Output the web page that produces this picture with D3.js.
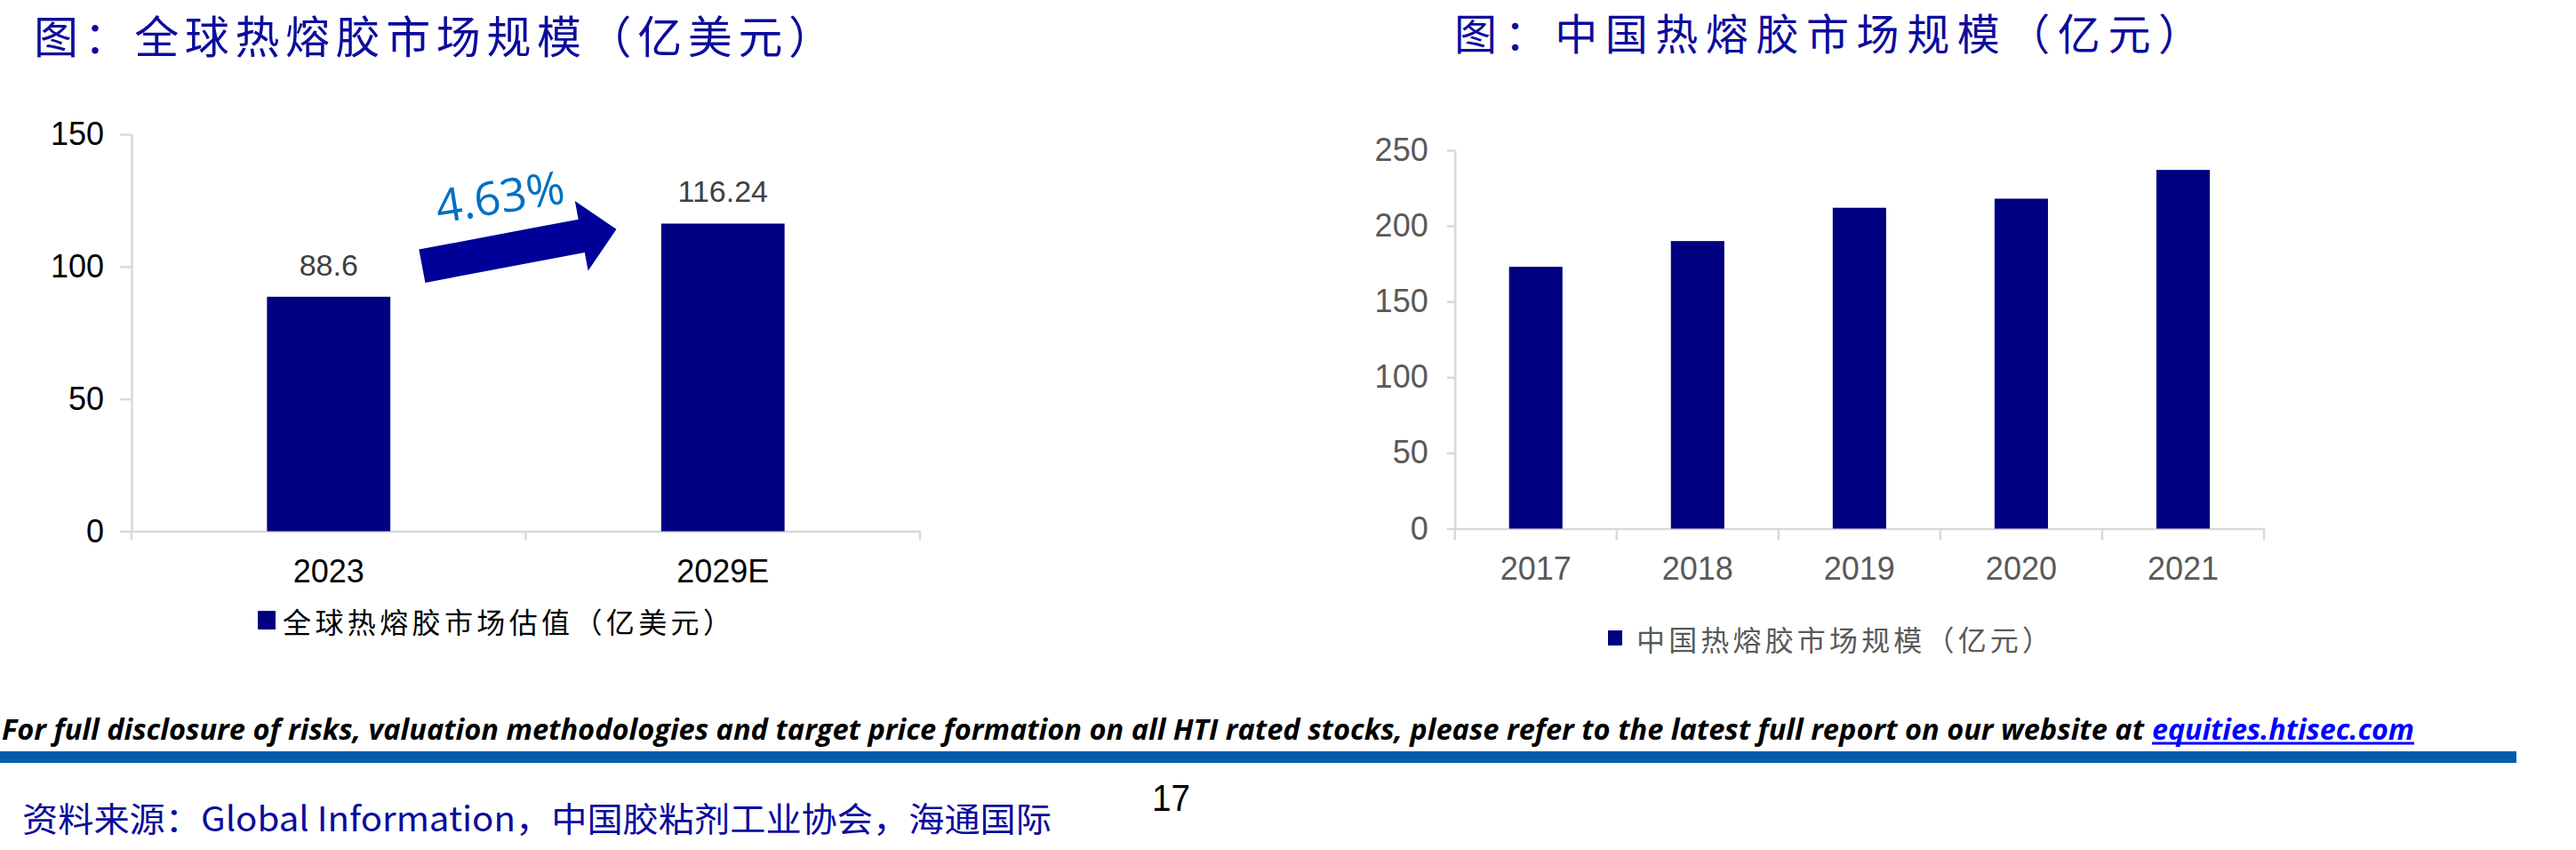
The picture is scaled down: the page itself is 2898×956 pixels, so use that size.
<!DOCTYPE html>
<html>
<head>
<meta charset="utf-8">
<script src="https://cdn.jsdelivr.net/npm/d3@7"></script>
<style>
  html, body { margin: 0; padding: 0; background: #fff; }
  svg { display: block; }
</style>
</head>
<body>
<svg id="chart" width="2898" height="956"></svg>
<script>
// left chart: global market (100m USD)
const globalYears = ['2023', '2029E']
const globalValues = [88.6, 116.24]
const globalTicks = [0, 50, 100, 150]
const cagrLabel = '4.63%'

// right chart: China market (100m CNY)
const chinaYears = ['2017', '2018', '2019', '2020', '2021']
const chinaValues = [173, 190, 212, 218, 237]
const chinaTicks = [0, 50, 100, 150, 200, 250]

const leftTitle = '图：全球热熔胶市场规模（亿美元）'
const rightTitle = '图：中国热熔胶市场规模（亿元）'
const leftLegend = '全球热熔胶市场估值（亿美元）'
const rightLegend = '中国热熔胶市场规模（亿元）'
const disclaimer = 'For full disclosure of risks, valuation methodologies and target price formation on all HTI rated stocks, please refer  to the  latest full report on our website at'
const linkText = 'equities.htisec.com'
const sourceText = '资料来源：Global Information，中国胶粘剂工业协会，海通国际'
const pageNo = '17'

const svg = d3.select('#chart')
const cjk = "'Noto Sans CJK SC', sans-serif"
const latin = "'Liberation Sans', Arial, sans-serif"
const barColor = '#000080'
const axisColor = '#d9d9d9'

const styleAxis = (g, color) => {
  g.select('.domain').attr('stroke', axisColor).attr('stroke-width', 2.5)
  g.selectAll('.tick line').attr('stroke', axisColor).attr('stroke-width', 2.5)
  g.selectAll('text').attr('fill', color).style('font-family', latin).style('font-size', '36px')
}

const drawBars = opts => {
  const { cats, vals, ticks, x0, x1, y0, y1, barFrac, yTick, yPad, xTickDown, labelColor } = opts
  const x = d3.scaleBand().domain(cats).range([x0, x1])
  const y = d3.scaleLinear().domain([0, d3.max(ticks)]).range([y0, y1])

  const yAxis = d3.axisLeft(y).tickValues(ticks).tickSize(yTick).tickSizeOuter(0).tickPadding(yPad)
  svg.append('g').attr('transform', `translate(${x0},0)`).call(yAxis).call(g => styleAxis(g, labelColor))

  const xAxis = d3.axisBottom(x).tickSize(0).tickSizeOuter(0).tickPadding(32)
  svg.append('g').attr('transform', `translate(0,${y0})`).call(xAxis).call(g => styleAxis(g, labelColor))

  // category boundary ticks below the axis
  const bounds = cats.map(c => x(c)).concat([x1])
  svg.append('g').selectAll('line').data(bounds).enter().append('line')
    .attr('x1', d => d).attr('x2', d => d)
    .attr('y1', y0).attr('y2', y0 + xTickDown)
    .attr('stroke', axisColor).attr('stroke-width', 2.5)

  const bw = x.bandwidth() * barFrac
  svg.append('g').selectAll('rect').data(vals).enter().append('rect')
    .attr('x', (d, i) => x(cats[i]) + (x.bandwidth() - bw) / 2)
    .attr('y', d => y(d))
    .attr('width', bw)
    .attr('height', d => y0 - y(d))
    .attr('fill', barColor)

  return { x, y }
}

// ---------- left chart ----------
const L = drawBars({
  cats: globalYears, vals: globalValues, ticks: globalTicks,
  x0: 148, x1: 1035, y0: 597.5, y1: 151,
  barFrac: 0.313, yTick: 13, yPad: 18, xTickDown: 10, labelColor: '#000'
})

svg.append('g').selectAll('text').data(globalValues).enter().append('text')
  .attr('x', (d, i) => L.x(globalYears[i]) + L.x.bandwidth() / 2)
  .attr('y', d => L.y(d) - 24)
  .attr('text-anchor', 'middle')
  .attr('fill', '#404040')
  .style('font-family', latin).style('font-size', '34px')
  .text(d => d)

// growth arrow, placed with the chart scales
{
  const bwL = L.x.bandwidth()
  const sx = L.x(globalYears[0]) + bwL * 0.737, sy = L.y(100.2)
  const tipX = L.x(globalYears[0]) + bwL * 1.23, ty = L.y(114.1)
  const dx = tipX - sx, dy = ty - sy
  const len = Math.hypot(dx, dy)
  const ang = Math.atan2(dy, dx) * 180 / Math.PI
  const shaftW = 38, headW = 80, headL = 40
  const pts = [
    [0, -shaftW / 2], [len - headL, -shaftW / 2], [len - headL, -headW / 2],
    [len, 0], [len - headL, headW / 2], [len - headL, shaftW / 2], [0, shaftW / 2]
  ]
  svg.append('polygon')
    .attr('points', pts.map(p => p.join(',')).join(' '))
    .attr('transform', `translate(${sx},${sy}) rotate(${ang})`)
    .attr('fill', '#000099')

  svg.append('text')
    .attr('transform', `translate(${(sx + tipX) / 2 - 22},${sy - 80}) rotate(-9)`)
    .attr('text-anchor', 'middle')
    .attr('dominant-baseline', 'central')
    .attr('fill', '#0070c0')
    .style('font-family', "'Open Sans', sans-serif").style('font-size', '52px')
    .text(cagrLabel)
}

// left legend
svg.append('rect').attr('x', 290).attr('y', 687).attr('width', 20).attr('height', 21).attr('fill', barColor)
svg.append('text').attr('x', 318).attr('y', 712)
  .attr('textLength', 505).attr('lengthAdjust', 'spacing')
  .attr('fill', '#000').style('font-family', cjk).style('font-size', '32px')
  .text(leftLegend)

// ---------- right chart ----------
const R = drawBars({
  cats: chinaYears, vals: chinaValues, ticks: chinaTicks,
  x0: 1636.7, x1: 2547, y0: 594.5, y1: 169,
  barFrac: 0.33, yTick: 9, yPad: 21, xTickDown: 13, labelColor: '#595959'
})

svg.append('rect').attr('x', 1809).attr('y', 709).attr('width', 16).attr('height', 17).attr('fill', barColor)
svg.append('text').attr('x', 1841).attr('y', 732)
  .attr('textLength', 466).attr('lengthAdjust', 'spacing')
  .attr('fill', '#595959').style('font-family', cjk).style('font-size', '32px')
  .text(rightLegend)

// ---------- titles ----------
svg.append('text').attr('x', 38).attr('y', 60)
  .attr('textLength', 899).attr('lengthAdjust', 'spacing')
  .attr('fill', '#0c0c9c').style('font-family', cjk).style('font-size', '50px')
  .text(leftTitle)
svg.append('text').attr('x', 1636).attr('y', 56)
  .attr('textLength', 840).attr('lengthAdjust', 'spacing')
  .attr('fill', '#0c0c9c').style('font-family', cjk).style('font-size', '48px')
  .text(rightTitle)

// ---------- footer ----------
svg.append('text').attr('x', 2).attr('y', 832)
  .attr('textLength', 2410).attr('lengthAdjust', 'spacingAndGlyphs')
  .attr('fill', '#000').style('font-family', "'Open Sans', sans-serif")
  .style('font-size', '33px').style('font-weight', 700).style('font-style', 'italic')
  .text(disclaimer)
svg.append('text').attr('x', 2421).attr('y', 832)
  .attr('textLength', 295).attr('lengthAdjust', 'spacingAndGlyphs')
  .attr('fill', '#0000ff').style('font-family', "'Open Sans', sans-serif")
  .style('font-size', '33px').style('font-weight', 700).style('font-style', 'italic')
  .text(linkText)
svg.append('line').attr('x1', 2421).attr('x2', 2716).attr('y1', 836).attr('y2', 836)
  .attr('stroke', '#0000ff').attr('stroke-width', 3)

svg.append('rect').attr('x', 0).attr('y', 845).attr('width', 2831).attr('height', 13).attr('fill', '#005dab')

svg.append('text').attr('x', 25).attr('y', 935)
  .attr('textLength', 1158).attr('lengthAdjust', 'spacingAndGlyphs')
  .attr('fill', '#0c0c9c').style('font-family', cjk).style('font-size', '38px')
  .text(sourceText)

svg.append('text').attr('x', 1296).attr('y', 912)
  .attr('textLength', 43).attr('lengthAdjust', 'spacingAndGlyphs')
  .attr('fill', '#000').style('font-family', latin).style('font-size', '42px')
  .text(pageNo)
</script>
</body>
</html>
